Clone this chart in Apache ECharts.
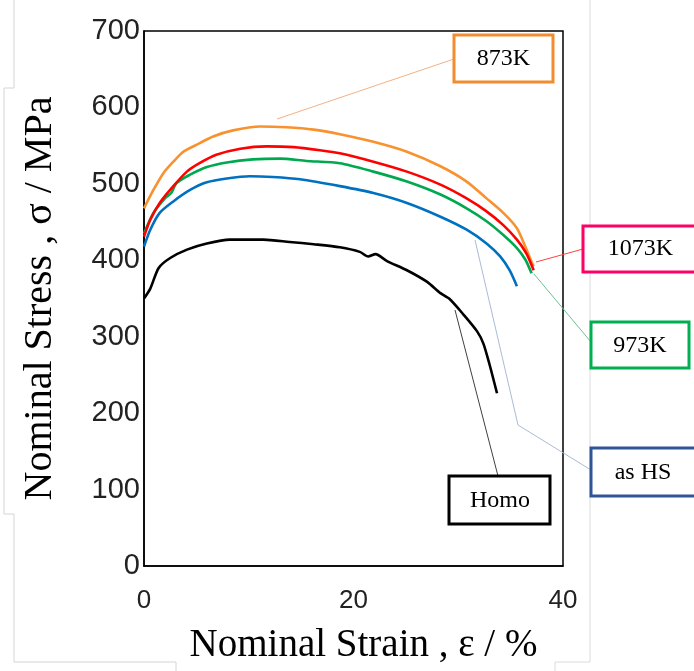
<!DOCTYPE html>
<html>
<head>
<meta charset="utf-8">
<script src="https://cdn.jsdelivr.net/npm/echarts@6/dist/echarts.min.js"></script>
<style>html,body{margin:0;padding:0;background:#fff;}#c{width:694px;height:671px;}</style>
</head>
<body>
<div id="c"></div>
<script>
// ---- data (strain %, stress MPa) ----
var k873Strain = [0, 0.9, 1.85, 2.8, 3.75, 5.0, 6.6, 8.5, 11.1, 13.6, 16.2, 18.7, 21.9, 25.1, 28.3, 30.8, 32.7, 34.3, 35.6, 36.4, 37.0, 37.2];
var k873Stress = [468, 492, 514, 529, 542, 551, 562, 570, 575, 574, 571, 565, 555, 542, 523, 503, 481, 462, 442, 418, 398, 392];

var k1073Strain = [0, 0.6, 1.5, 2.8, 4.1, 5.3, 6.9, 9.2, 11.7, 14.3, 16.8, 18.7, 21.9, 25.1, 28.3, 30.8, 32.7, 34.3, 35.6, 36.5, 37.2];
var k1073Stress = [431, 453, 475, 497, 516, 527, 538, 546, 549, 548, 544, 540, 529, 516, 499, 481, 464, 446, 427, 409, 387];

var k973Strain = [0, 0.9, 2.0, 2.6, 3.1, 4.4, 6.0, 7.9, 10.4, 13.0, 15.5, 18.7, 21.9, 25.1, 28.3, 30.8, 32.7, 34.3, 35.6, 36.4, 37.0];
var k973Stress = [435, 462, 481, 488, 501, 512, 522, 528, 532, 533, 530, 527, 516, 503, 486, 468, 451, 433, 416, 401, 383];

var asHSStrain = [0, 0.6, 1.5, 2.8, 4.4, 6.0, 7.9, 10.1, 12.3, 14.9, 18.7, 21.9, 25.1, 28.3, 30.8, 32.7, 34.0, 34.9, 35.6];
var asHSStress = [418, 440, 462, 477, 492, 502, 507, 510, 509, 506, 497, 488, 475, 457, 440, 422, 405, 387, 366];

var homoStrain = [0, 0.6, 1.4, 2.5, 4.1, 6.0, 8.2, 11.4, 13.9, 16.2, 18.7, 20.6, 21.4, 22.1, 23.2, 25.1, 27.0, 28.3, 29.2, 30.5, 31.8, 32.4, 33.0, 33.7];
var homoStress = [350, 363, 390, 403, 414, 422, 427, 427, 424, 421, 417, 411, 405, 408, 399, 387, 372, 357, 349, 329, 307, 291, 263, 226];

var xTicks = [0, 20, 40];
var yTicks = [0, 100, 200, 300, 400, 500, 600, 700];
var xTitle = 'Nominal Strain , ε / %';
var yTitle = 'Nominal Stress , σ / MPa';

function pairs(xs, ys) { return xs.map(function (v, i) { return [v, ys[i]]; }); }

var chart = echarts.init(document.getElementById('c'), null, {renderer: 'canvas'});

function line(name, xs, ys, color) {
  return {
    name: name, type: 'line', data: pairs(xs, ys), showSymbol: false, smooth: 0.25,
    lineStyle: {color: color, width: 2.6}, itemStyle: {color: color}, silent: true
  };
}

function box(x, y, w, h, color, text, tx, ty) {
  return [
    {type: 'rect', shape: {x: x, y: y, width: w, height: h}, style: {fill: '#fff', stroke: color, lineWidth: 3}, z: 110},
    {type: 'text', x: tx, y: ty, style: {text: text, font: '24px "Liberation Serif", "Times New Roman", serif', fill: '#000', align: 'center', verticalAlign: 'middle'}, z: 111}
  ];
}
function seg(pts, color) {
  return {type: 'polyline', shape: {points: pts}, style: {stroke: color, lineWidth: 1, fill: null}, z: 105};
}

var graphics = [].concat(
  // faint page frame lines
  seg([[14, 0], [14, 88], [4, 88], [4, 514], [14, 514], [14, 662], [176, 662], [176, 671]], '#d4d4d4'),
  seg([[590, 0], [590, 662], [555, 662], [555, 671]], '#dcdcdc'),
  // leader lines
  seg([[277, 119], [454, 59]], '#F4B183'),
  seg([[536, 262], [583, 249]], '#FF4040'),
  seg([[534, 274], [591, 342]], '#6CC28E'),
  seg([[475, 240], [518, 425], [591, 470]], '#A9BCD8'),
  seg([[455, 310], [498, 476]], '#404040'),
  box(454, 35, 99, 47, '#F28C30', '873K', 503.5, 59),
  box(583, 226, 120, 46, '#FF0066', '1073K', 640.5, 249),
  box(591, 322, 98, 46, '#00B050', '973K', 640, 345.5),
  box(591, 448, 120, 48, '#2F5597', 'as HS', 643, 472.5),
  box(449, 476, 101, 48, '#000000', 'Homo', 500, 500.5)
);

chart.setOption({
  backgroundColor: '#fff',
  animation: false,
  grid: {left: 144, top: 31, right: 131, bottom: 105, show: true, borderColor: '#000', borderWidth: 1.5, containLabel: false},
  xAxis: {
    type: 'value', min: xTicks[0], max: xTicks[xTicks.length - 1], interval: 20,
    name: xTitle, nameLocation: 'middle', nameGap: 60,
    nameTextStyle: {fontFamily: '"Liberation Serif", "Times New Roman", serif', fontSize: 39, color: '#000', padding: [0, 0, 0, 20]},
    axisLine: {show: true, lineStyle: {color: '#000', width: 1.5}},
    axisTick: {show: false}, splitLine: {show: false},
    axisLabel: {fontFamily: '"Liberation Sans", Arial, sans-serif', fontSize: 26, color: '#222', margin: 22}
  },
  yAxis: {
    type: 'value', min: yTicks[0], max: yTicks[yTicks.length - 1], interval: 100,
    name: yTitle, nameLocation: 'middle', nameGap: 84,
    nameTextStyle: {fontFamily: '"Liberation Serif", "Times New Roman", serif', fontSize: 40, color: '#000'},
    axisLine: {show: true, lineStyle: {color: '#000', width: 1.5}},
    axisTick: {show: false}, splitLine: {show: false},
    axisLabel: {fontFamily: '"Liberation Sans", Arial, sans-serif', fontSize: 29, color: '#222', margin: 4}
  },
  series: [
    line('Homo', homoStrain, homoStress, '#000000'),
    line('as HS', asHSStrain, asHSStress, '#0070C0'),
    line('873K', k873Strain, k873Stress, '#F7922E'),
    line('973K', k973Strain, k973Stress, '#00A84F'),
    line('1073K', k1073Strain, k1073Stress, '#FF0000')
  ],
  graphic: graphics
});
</script>
</body>
</html>
